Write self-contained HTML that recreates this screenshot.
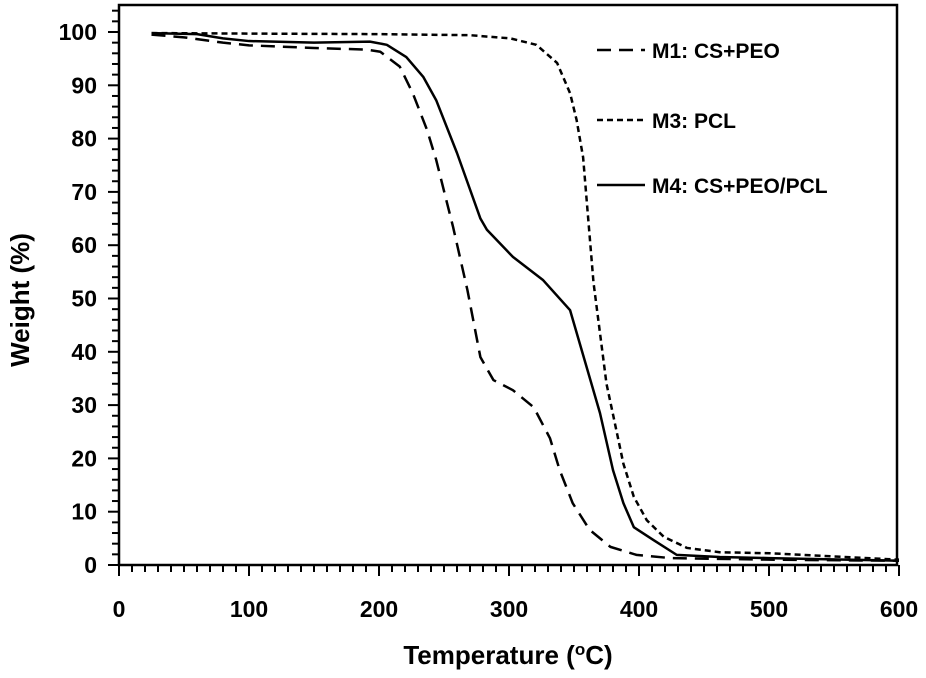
<!DOCTYPE html>
<html><head><meta charset="utf-8"><style>
body{margin:0;background:#fff}
svg text{font-family:"Liberation Sans",sans-serif;font-weight:bold;fill:#000}
</style></head><body>
<svg id="c" width="926" height="673" viewBox="0 0 926 673"></svg>
<script>
const temps1=[25,50,80,100,150,190,201,216,226,237,244,257,268,278,288,303,319,331.5,339,349,362,378,398,424,500,600];
const m1=[99.5,99,98,97.5,97,96.7,96.3,93.5,88.5,81.6,76,63.4,51.6,39,34.7,32.8,29.6,23.8,17.8,11.6,6.6,3.4,1.9,1.3,1,0.8];
const temps3=[25,100,200,270,301,321,337,347,352,357,365,375,383,388,396,406,419,437,462,501,600];
const m3=[99.8,99.7,99.6,99.4,98.8,97.6,94.2,88.5,83.5,76.5,53,34,24.8,19,12.8,8.4,5.3,3.2,2.4,2.2,1];
const temps4=[25,60,80,100,150,193,206,221,234,244,260,278,283,303,326,347,370,380,388,396,411,429,462,500,600];
const m4=[99.8,99.6,98.8,98.3,98,98.2,97.6,95.3,91.6,87.2,77.3,65,62.9,57.8,53.5,47.8,28.5,17.8,11.6,7.1,4.7,1.9,1.5,1.3,0.8];
const xTicks=[0,100,200,300,400,500,600];
const yTicks=[0,10,20,30,40,50,60,70,80,90,100];
const series=[
 {name:'M1: CS+PEO',t:temps1,v:m1,dash:'14,8',ly:50},
 {name:'M3: PCL',t:temps3,v:m3,dash:'6,4',ly:120},
 {name:'M4: CS+PEO/PCL',t:temps4,v:m4,dash:'',ly:185}];
const X=t=>119+t*1.3, Y=v=>565-v*5.33;
const svg=document.getElementById('c');const NS='http://www.w3.org/2000/svg';
function mk(tag,a,txt){const e=document.createElementNS(NS,tag);for(const k in a)e.setAttribute(k,a[k]);if(txt!=null)e.textContent=txt;svg.appendChild(e);return e;}
let r=mk('rect',{x:119,y:5,width:778,height:560,fill:'none',stroke:'#000','stroke-width':2.5});


for(let t=0;t<=600;t+=10){let l=mk('line',{x1:X(t),x2:X(t),y1:565,y2:t%100==0?576:572,stroke:'#000','stroke-width':2});

}
for(let v=0;v<=104;v+=2){let l=mk('line',{x1:v%10==0?108:112,x2:119,y1:Y(v),y2:Y(v),stroke:'#000','stroke-width':2});

}
xTicks.forEach(t=>{let e=mk('text',{x:X(t),y:617,'text-anchor':'middle','font-size':23},t);

});
yTicks.forEach(v=>{let e=mk('text',{x:97,y:Y(v)+8,'text-anchor':'end','font-size':23},v);

});
let xt=mk('text',{x:508,y:664,'text-anchor':'middle','font-size':26});
xt.innerHTML='Temperature  (<tspan font-size="17" dy="-9">o</tspan><tspan dy="9">C)</tspan>';


let yt=mk('text',{x:0,y:0,'text-anchor':'middle','font-size':26,transform:'translate(29,300) rotate(-90)'},'Weight (%)');


series.forEach(s=>{
 let p=mk('polyline',{points:s.t.map((t,i)=>X(t)+','+Y(s.v[i])).join(' '),fill:'none',stroke:'#000','stroke-width':2.5,'stroke-dasharray':s.dash,'stroke-linejoin':'round'});
 
 
 let l=mk('line',{x1:597,x2:645,y1:s.ly,y2:s.ly,stroke:'#000','stroke-width':2.5,'stroke-dasharray':s.dash});
 
 
 let tx=mk('text',{x:652,y:s.ly+8,'font-size':21},s.name);
 
 
});
</script>
</body></html>
